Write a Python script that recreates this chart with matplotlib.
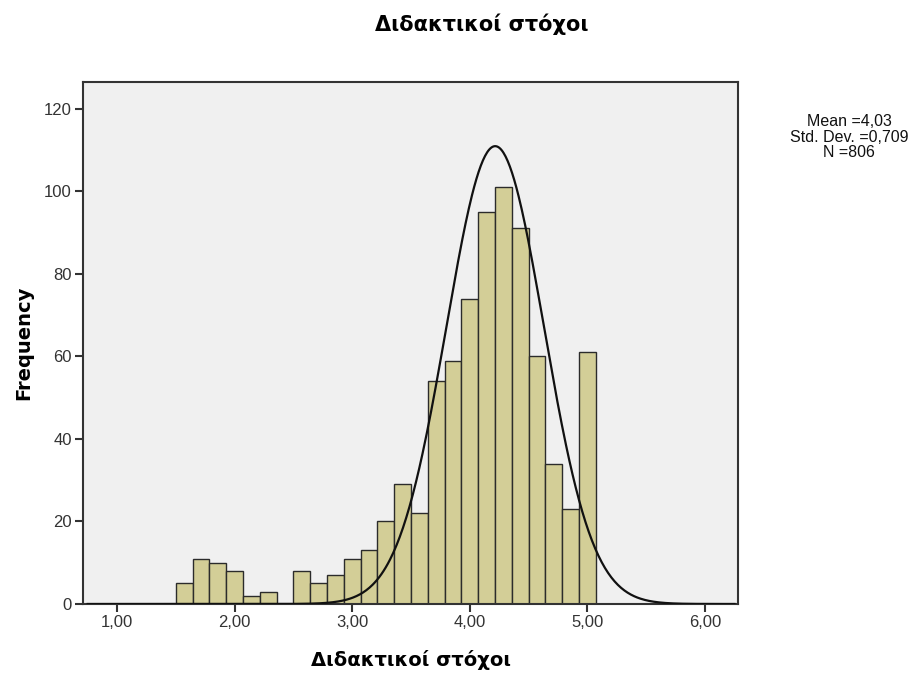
import numpy as np
import matplotlib
matplotlib.use("Agg")
import matplotlib.pyplot as plt

# ---- data ----
bin_width = 1 / 7
bin_centers_k = [11, 12, 13, 14, 15, 16, 17, 18, 19, 20, 21, 22, 23, 24, 25,
                 26, 27, 28, 29, 30, 31, 32, 33, 34, 35]  # value = k/7
counts = [5, 11, 10, 8, 2, 3, 0, 8, 5, 7, 11, 13, 20, 29, 22,
          54, 59, 74, 95, 101, 91, 60, 34, 23, 61]
x_ticks = [1, 2, 3, 4, 5, 6]
x_tick_labels = ["1,00", "2,00", "3,00", "4,00", "5,00", "6,00"]
y_ticks = [0, 20, 40, 60, 80, 100, 120]
title = "Διδακτικοί στόχοι"
xlabel = "Διδακτικοί στόχοι"
ylabel = "Frequency"
stats_text = "Mean =4,03\nStd. Dev. =0,709\nN =806"
curve_mean = 4.215
curve_sd = 0.414
n_total = sum(counts)

plt.rcParams['font.family'] = ['Liberation Sans', 'DejaVu Sans']
bold_family = ['DejaVu Sans']

fig = plt.figure(figsize=(9.23, 6.75), dpi=100)
ax = fig.add_axes([0.0899, 0.1052, 0.7097, 0.7733])
ax.set_facecolor("#f0f0f0")

centers = np.array(bin_centers_k) / 7
ax.bar(centers, counts, width=bin_width, color="#d3ce97", edgecolor="#2b2b2b",
       linewidth=1.0, align="center", zorder=2)

xs = np.linspace(0.75, 6.25, 600)
ys = n_total * bin_width / (curve_sd * np.sqrt(2 * np.pi)) * np.exp(-0.5 * ((xs - curve_mean) / curve_sd) ** 2)
ax.plot(xs, ys, color="#111111", linewidth=1.6, zorder=3)

ax.set_xlim(0.71, 6.28)
ax.set_ylim(0, 126.5)
ax.set_xticks(x_ticks)
ax.set_xticklabels(x_tick_labels)
ax.set_yticks(y_ticks)
ax.tick_params(axis='both', direction='out', length=6, width=1.5, color="#333333",
               labelsize=12, labelcolor="#333333", pad=2)
for s in ax.spines.values():
    s.set_color("#333333")
    s.set_linewidth(1.5)

ax.set_xlabel(xlabel, fontsize=14, fontweight='bold', labelpad=14, family=bold_family)
ax.set_ylabel(ylabel, fontsize=14, fontweight='bold', labelpad=8, family=bold_family)

fig.text(0.5217, 0.9644, title, ha='center', va='center', fontsize=15,
         fontweight='bold', family=bold_family)
fig.text(0.92, 0.797, stats_text, ha='center', va='center', fontsize=11.5,
         linespacing=1.05, color="#111111")

fig.savefig("out.png", dpi=100)
